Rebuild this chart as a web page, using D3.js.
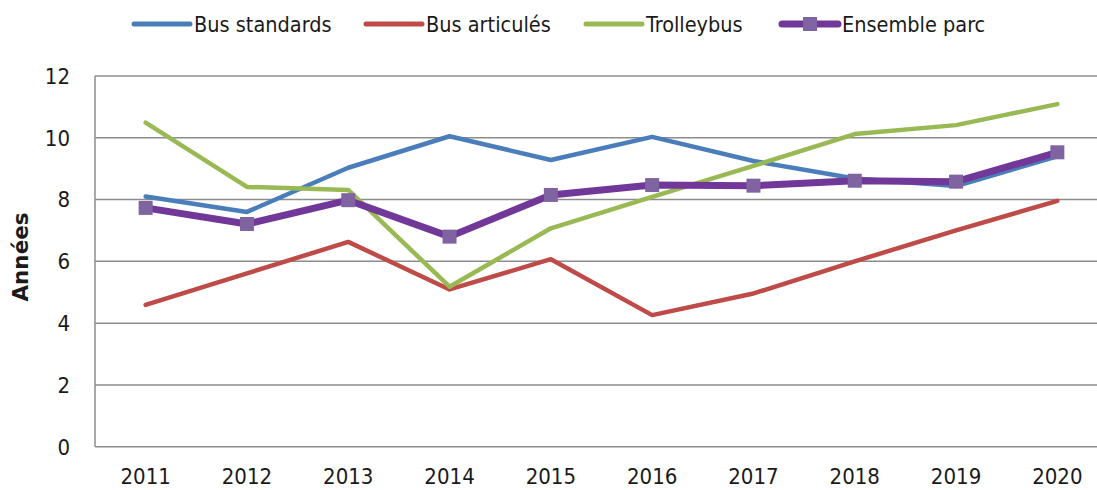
<!DOCTYPE html>
<html><head><meta charset="utf-8">
<script src="https://cdn.jsdelivr.net/npm/d3@7"></script>
<style>
html,body{margin:0;padding:0;background:#fff;}
text{font-family:"DejaVu Sans Condensed","DejaVu Sans",sans-serif;font-stretch:condensed;fill:#1a1a1a;}
text.title{font-family:"DejaVu Sans",sans-serif;font-stretch:normal;}
</style></head>
<body><svg id="c" width="1097" height="490"></svg>
<script>
const years = ["2011","2012","2013","2014","2015","2016","2017","2018","2019","2020"];
const busStandards = [8.1, 7.6, 9.03, 10.05, 9.28, 10.03, 9.25, 8.68, 8.44, 9.4];
const busArticules = [4.59, 5.61, 6.63, 5.09, 6.07, 4.26, 4.96, 6.0, 7.0, 7.96];
const trolleybus = [10.49, 8.41, 8.31, 5.18, 7.07, 8.09, 9.09, 10.12, 10.41, 11.09];
const ensembleParc = [7.73, 7.21, 7.98, 6.8, 8.15, 8.47, 8.45, 8.61, 8.58, 9.53];
const yTicks = [0, 2, 4, 6, 8, 10, 12];
const seriesNames = ["Bus standards", "Bus articulés", "Trolleybus", "Ensemble parc"];

const svg = d3.select("#c");
const x = d3.scaleBand().domain(years).range([95, 1108]);
const y = d3.scaleLinear().domain([0, 12]).range([446.7, 76]);
const cx = d => x(d) + x.bandwidth() / 2;

// gridlines
svg.append("g").selectAll("line").data(yTicks).join("line")
  .attr("x1", 95).attr("x2", 1097)
  .attr("y1", d => y(d)).attr("y2", d => y(d))
  .attr("stroke", "#8c8c8c").attr("stroke-width", 1.5);
// left axis
svg.append("line").attr("x1", 95).attr("x2", 95).attr("y1", y(12)).attr("y2", y(0))
  .attr("stroke", "#8c8c8c").attr("stroke-width", 1.5);

// y tick labels
svg.append("g").selectAll("text").data(yTicks).join("text")
  .attr("x", 70).attr("y", d => y(d)).attr("dy", "0.36em")
  .attr("text-anchor", "end").attr("font-size", 22).text(d => d);
// x labels
svg.append("g").selectAll("text").data(years).join("text")
  .attr("x", d => cx(d)).attr("y", 476.5).attr("dy", "0.36em")
  .attr("text-anchor", "middle").attr("font-size", 22).text(d => d);
// y title
svg.append("text").attr("class", "title").attr("transform", "translate(20,257) rotate(-90)")
  .attr("text-anchor", "middle").attr("dy", "0.36em")
  .attr("font-size", 21.5).attr("font-weight", "bold").text("Années");

const series = [
  {name: seriesNames[0], values: busStandards, color: "#4A7EBB", w: 4.5},
  {name: seriesNames[1], values: busArticules, color: "#BE4B48", w: 4.5},
  {name: seriesNames[2], values: trolleybus, color: "#98B954", w: 4.5},
  {name: seriesNames[3], values: ensembleParc, color: "#71389A", w: 7, marker: "#8064A2"}
];
const line = d3.line().x((d, i) => cx(years[i])).y(d => y(d));
series.forEach(s => {
  svg.append("path").datum(s.values).attr("d", line)
    .attr("fill", "none").attr("stroke", s.color).attr("stroke-width", s.w)
    .attr("stroke-linejoin", "round").attr("stroke-linecap", "round");
  if (s.marker) {
    svg.append("g").selectAll("rect").data(s.values).join("rect")
      .attr("x", (d, i) => cx(years[i]) - 7).attr("y", d => y(d) - 7)
      .attr("width", 14).attr("height", 14).attr("fill", s.marker);
  }
});

// legend
const legX = [134, 366, 586, 782];
const lg = svg.append("g");
series.forEach((s, i) => {
  const g = lg.append("g").attr("transform", `translate(${legX[i]},24)`);
  g.append("line").attr("x1", 0).attr("x2", 56).attr("y1", 0).attr("y2", 0)
    .attr("stroke", s.color).attr("stroke-width", s.marker ? 7 : 5).attr("stroke-linecap", "round");
  if (s.marker) g.append("rect").attr("x", 21).attr("y", -7).attr("width", 14).attr("height", 14).attr("fill", s.marker);
  g.append("text").attr("x", 60).attr("y", 0).attr("dy", "0.36em").attr("font-size", 21.5).text(s.name);
});
</script></body></html>
